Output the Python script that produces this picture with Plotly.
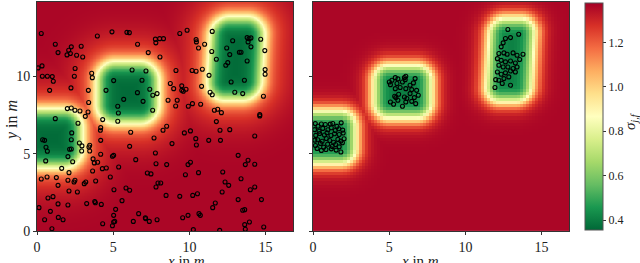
import numpy as np
import plotly.graph_objects as go

# ---------------- data ----------------
X_RANGE = [0, 16.8]
Y_RANGE = [0, 14.8]
X_TICKS = [0, 5, 10, 15]
Y_TICKS = [0, 5, 10]
CB_TICKS = [0.4, 0.6, 0.8, 1.0, 1.2]
CB_TICKTEXT = ["0.4", "0.6", "0.8", "1.0", "1.2"]
Z_MIN, Z_MAX = 0.355, 1.377

# low-sigma regions (cx, cy, half-width x, half-width y, corner radius, skew)
LEFT_REGIONS = [
    (0.85, 6.0, 1.7, 1.45, 0.8, 0.0),
    (5.95, 8.95, 1.6, 1.55, 0.8, 0.0),
    (13.05, 11.15, 1.35, 2.25, 0.8, 0.06),
]
RIGHT_REGIONS = [
    (0.9, 6.05, 1.4, 1.2, 0.5, 0.0),
    (5.88, 9.0, 1.4, 1.22, 0.5, 0.0),
    (12.96, 11.05, 1.02, 2.2, 0.5, 0.06),
]
LEFT_LEVELS = dict(lo=0.36, hi=1.365, e0=0.38, w=0.3, halo=0.14, halo_s=1.5)
RIGHT_LEVELS = dict(lo=0.40, hi=1.365, e0=0.5, w=0.3, halo=0.03, halo_s=1.0)

LEFT_X = [0.28, 4.92, 5.9, 6.06, 3.96, 7.77, 8.05, 8.3, 7.8, 9.37, 9.85, 11.5, 10.44, 10.46, 11.0, 10.6,
          11.47, 1.2, 6.6, 2.25, 2.9, 1.38, 2.19, 1.97, 2.08, 3.0, 2.6, 7.3, 8.07, 0.33, 0.07, 2.5, 2.45,
          0.35, 0.68, 1.0, 1.07, 3.59, 3.63, 0.83, 2.23, 3.37, 9.12, 10.18, 10.44, 10.85, 11.29, 6.24,
          7.15, 5.03, 6.89, 4.53, 7.4, 7.6, 6.59, 7.88, 8.75, 8.97, 9.5, 9.5, 9.6, 9.78, 10.8, 11.36, 11.5,
          5.69, 6.96, 5.3, 5.34, 5.3, 7.59, 8.6, 9.1, 9.2, 9.93, 10.2, 10.74, 11.64, 11.86, 12.1, 11.77,
          1.2, 2.25, 1.99, 2.49, 2.82, 3.35, 3.17, 2.69, 4.31, 3.39, 6.15, 4.18, 4.16, 4.18, 6.08, 8.27,
          8.51, 7.68, 8.86, 9.67, 10.07, 10.42, 10.46, 11.27, 12.04, 12.01, 12.65, 14.29, 14.62, 14.62,
          14.86, 14.97, 14.97,
          0.37, 0.5, 0.59, 0.68, 0.57, 2.28, 2.25, 2.14, 2.25, 2.03, 2.34, 2.78, 2.95, 2.93, 3.46, 3.41,
          3.46, 3.68, 3.76, 3.65, 3.98, 4.18, 4.95, 5.03, 6.48, 5.36, 4.29, 4.55, 4.81, 7.77, 7.81, 8.51,
          9.91, 10.07, 9.74, 10.6, 7.24, 7.48, 7.94, 7.81, 5.84, 6.08, 5.05, 5.58, 4.22, 3.26, 3.79, 3.83,
          3.1, 3.2, 3.85, 2.03, 2.1, 2.49, 2.43, 2.65, 2.1, 1.62, 1.27, 0.66, 0.28, 1.38, 0.72, 1.05, 1.38,
          0.88, 2.03, 0.13, 0.5, 1.4, 1.71, 0.98, 4.31, 5.03, 5.1, 4.95, 6.32, 6.67, 7.11, 7.13, 7.37,
          7.88, 5.16, 5.03, 9.56, 9.91, 10.26, 10.63, 10.72, 11.53, 11.7, 10.53, 10.22, 9.37, 8.47, 8.12,
          12.15, 12.58, 12.34, 12.19, 13.2, 13.39, 13.2, 13.67, 13.85, 14.29, 14.0, 14.29, 14.73, 13.5,
          13.63, 13.63, 13.67, 13.94, 14.88, 11.99,
          11.77, 12.84, 12.45, 12.65, 13.28, 13.39, 13.79, 13.92, 13.85, 14.04, 14.04, 14.68, 14.95,
          13.79, 12.39, 12.52, 12.74, 12.98, 13.5, 13.61]
LEFT_Y = [12.76, 12.87, 12.84, 12.82, 12.6, 12.4, 12.43, 12.43, 12.16, 12.76, 12.97, 12.9, 12.37, 12.22,
          12.07, 11.83, 11.6, 12.07, 12.07, 11.9, 11.94, 11.53, 11.47, 11.38, 11.68, 11.25, 11.36, 11.53,
          11.25, 10.67, 10.54, 10.5, 10.0, 10.0, 10.0, 9.98, 9.68, 10.2, 9.91, 9.09, 9.25, 9.09, 10.37,
          10.37, 10.32, 10.45, 10.06, 10.41, 10.34, 9.72, 9.74, 9.09, 9.16, 8.77, 8.94, 8.88, 9.53, 9.2,
          9.38, 9.09, 9.03, 9.16, 9.35, 8.97, 8.81, 8.51, 8.38, 8.06, 7.63, 7.09, 7.8, 8.45, 8.08, 8.45,
          8.06, 8.23, 8.19, 7.8, 7.87, 7.65, 7.07, 7.26, 7.95, 7.91, 7.8, 7.76, 7.69, 7.41, 6.96, 7.2, 8.3,
          6.38, 6.68, 6.51, 5.86, 5.47, 6.51, 6.77, 6.01, 5.65, 6.34, 6.47, 5.97, 5.56, 5.86, 5.86, 6.51,
          6.55, 6.14, 7.44, 7.52, 8.71, 10.13, 10.43,
          5.9, 5.86, 5.41, 5.15, 4.53, 6.34, 5.9, 5.28, 5.3, 4.81, 4.48, 5.69, 5.5, 5.17, 5.54, 5.43, 5.17,
          4.66, 4.4, 3.88, 4.44, 4.96, 4.83, 4.89, 4.61, 4.14, 4.03, 4.07, 3.49, 5.04, 4.35, 4.29, 4.29,
          4.44, 3.64, 3.77, 3.75, 3.69, 3.1, 2.84, 2.78, 2.63, 2.67, 1.96, 1.72, 1.77, 1.9, 1.83, 3.06,
          3.17, 3.23, 3.28, 3.77, 3.28, 3.17, 2.52, 2.59, 4.05, 3.45, 3.49, 3.36, 2.95, 2.13, 2.22, 1.75,
          1.27, 1.68, 1.51, 0.73, 0.88, 0.73, 0.15, 0.47, 0.58, 0.62, 0.34, 0.62, 1.12, 0.86, 0.8, 0.62,
          0.73, 1.4, 1.01, 0.86, 1.01, 0.09, 1.12, 1.01, 1.51, 1.81, 2.41, 2.3, 2.24, 2.3, 3.1, 2.52, 2.95,
          3.17, 3.81, 2.03, 3.38, 4.89, 4.29, 4.57, 4.31, 2.67, 2.84, 2.03, 1.34, 1.38, 0.41, 0.11, 0.58,
          0.26, 0.04,
          11.1, 12.3, 11.83, 11.4, 11.55, 11.55, 12.5, 12.43, 12.22, 12.48, 11.9, 12.39, 11.66, 10.99,
          10.71, 10.88, 9.63, 8.97, 8.88, 9.74]

RIGHT_X = [0.15, 0.33, 0.55, 0.81, 1.13, 1.3, 1.57, 1.85, 0.1, 0.4, 0.64, 0.98, 1.2, 1.46, 1.69, 1.95,
           0.18, 0.44, 0.75, 0.92, 1.18, 1.41, 1.72, 1.98, 0.12, 0.31, 0.6, 0.87, 1.1, 1.35, 1.63, 1.83,
           2.04, 0.16, 0.49, 0.7, 0.96, 1.26, 1.48, 1.72, 1.93, 0.55, 0.85, 1.2, 1.52, 1.83, 0.27,
           5.01, 5.18, 5.4, 5.57, 6.0, 6.09, 6.7, 5.08, 5.51, 5.87, 6.05, 6.37, 6.59, 5.4, 5.72, 6.09,
           6.48, 6.8, 5.36, 5.62, 6.0, 6.37, 6.65, 6.91, 5.08, 5.29, 5.57, 5.87, 6.09, 6.48, 6.74, 5.44, 6.16,
           12.79, 13.5, 12.63, 12.48, 12.35, 12.96, 12.2, 12.53, 12.74, 13.13, 13.39, 13.78, 12.1, 12.35,
           12.63, 12.96, 13.28, 13.56, 12.2, 12.48, 12.79, 13.13, 13.39, 12.1, 12.35, 12.63, 12.96, 13.28,
           11.99, 12.2, 12.53, 12.85, 11.94, 12.96, 12.42]
RIGHT_Y = [6.94, 6.77, 6.92, 6.88, 6.91, 6.95, 6.76, 6.99, 6.55, 6.45, 6.63, 6.54, 6.67, 6.5, 6.61, 6.52,
           6.18, 6.3, 6.2, 6.35, 6.17, 6.29, 6.24, 6.33, 5.87, 5.9, 5.8, 5.98, 5.85, 5.74, 5.92, 5.81,
           5.96, 5.53, 5.66, 5.42, 5.61, 5.46, 5.59, 5.44, 5.7, 5.21, 5.27, 5.31, 5.23, 5.11, 5.33,
           9.63, 9.74, 9.91, 9.83, 9.91, 10.0, 9.85, 9.46, 9.53, 9.63, 9.78, 9.42, 9.57, 9.2, 9.27, 9.2,
           9.14, 9.09, 8.71, 8.84, 8.66, 8.88, 8.62, 8.77, 8.34, 8.19, 8.45, 8.06, 8.34, 8.38, 8.23, 8.62, 8.56,
           13.02, 12.72, 12.44, 12.16, 11.9, 12.5, 11.47, 11.51, 11.42, 11.51, 11.36, 11.42, 11.14, 11.03,
           10.93, 10.99, 10.86, 11.08, 10.71, 10.6, 10.6, 10.5, 10.6, 10.28, 10.13, 10.22, 10.34, 10.28,
           9.78, 9.74, 9.85, 9.96, 9.27, 9.42, 9.53]


def sigma_field(xs, ys, regions, lo, hi, e0, w, halo, halo_s):
    X, Y = np.meshgrid(xs, ys)
    f = np.zeros_like(X)
    h = np.zeros_like(X)
    for cx, cy, ax, ay, r, skew in regions:
        dx = np.abs((X - cx) - skew * (Y - cy)) - (ax - r)
        dy = np.abs(Y - cy) - (ay - r)
        e = np.hypot(np.maximum(dx, 0), np.maximum(dy, 0)) + np.minimum(np.maximum(dx, dy), 0) - r
        g = 1.0 / (1.0 + np.exp((e - e0) / w))
        f = np.maximum(f, g)
        h = np.maximum(h, np.exp(-np.maximum(e, 0) ** 2 / (2 * halo_s ** 2)))
    return hi - (hi - lo) * f - halo * h * (1 - f)


xl = np.arange(0.025, 16.85, 0.05)
yl = np.arange(0.025, 14.85, 0.05)
zl = sigma_field(xl, yl, LEFT_REGIONS, **LEFT_LEVELS)
xr = np.arange(0.1, 17.0, 0.2)
yr = np.arange(0.1, 15.0, 0.2)
zr = sigma_field(xr, yr, RIGHT_REGIONS, **RIGHT_LEVELS)

FONT = "Liberation Serif"
fig = go.Figure()
fig.add_trace(go.Heatmap(x=xl, y=yl, z=zl, colorscale="RdYlGn", reversescale=True,
                         zmin=Z_MIN, zmax=Z_MAX, showscale=False, xaxis="x", yaxis="y"))
fig.add_trace(go.Heatmap(x=xr, y=yr, z=zr, colorscale="RdYlGn", reversescale=True,
                         zmin=Z_MIN, zmax=Z_MAX, xaxis="x2", yaxis="y2",
                         colorbar=dict(x=585 / 640, xanchor="left", xpad=0, ypad=0,
                                       thickness=18, thicknessmode="pixels",
                                       len=227, lenmode="pixels", y=0.5, yanchor="middle",
                                       outlinewidth=1, outlinecolor="#555",
                                       tickvals=CB_TICKS, ticktext=CB_TICKTEXT, ticks="outside",
                                       ticklen=3, tickcolor="#333",
                                       tickfont=dict(family=FONT, size=12, color="#222"))))
marker = dict(symbol="circle-open", size=4, color="black", line=dict(width=1.1, color="black"))
fig.add_trace(go.Scatter(x=LEFT_X, y=LEFT_Y, mode="markers", marker=marker, xaxis="x", yaxis="y",
                         showlegend=False))
fig.add_trace(go.Scatter(x=RIGHT_X, y=RIGHT_Y, mode="markers", marker=marker, xaxis="x2", yaxis="y2",
                         showlegend=False))

ax_common = dict(showline=True, mirror=True, linecolor="#333", linewidth=1, ticks="outside", ticklen=3,
                 tickcolor="#333", showgrid=False, zeroline=False,
                 tickfont=dict(family=FONT, size=14, color="#222"))
fig.update_layout(
    width=640, height=263, margin=dict(l=0, r=0, t=2, b=32, autoexpand=False),
    paper_bgcolor="white", plot_bgcolor="white", showlegend=False,
    xaxis=dict(domain=[37 / 640, 293 / 640], range=X_RANGE, tickvals=X_TICKS, anchor="y", **ax_common),
    yaxis=dict(domain=[0, 1], range=Y_RANGE, tickvals=Y_TICKS, anchor="x", **ax_common),
    xaxis2=dict(domain=[313 / 640, 569 / 640], range=X_RANGE, tickvals=X_TICKS, anchor="y2", **ax_common),
    yaxis2=dict(domain=[0, 1], range=Y_RANGE, tickvals=Y_TICKS, anchor="x2", showticklabels=False,
                **ax_common),
    annotations=[
        dict(text="<i>x</i> in <i>m</i>", xref="paper", yref="paper", x=165 / 640, y=-0.132,
             showarrow=False, font=dict(family=FONT, size=15, color="#222"), yanchor="middle"),
        dict(text="<i>x</i> in <i>m</i>", xref="paper", yref="paper", x=441 / 640, y=-0.132,
             showarrow=False, font=dict(family=FONT, size=15, color="#222"), yanchor="middle"),
        dict(text="<i>y</i> in <i>m</i>", xref="paper", yref="paper", x=12 / 640, y=0.48,
             showarrow=False, textangle=-90, font=dict(family=FONT, size=16, color="#222"),
             xanchor="center", yanchor="middle"),
        dict(text="<i>σ<sub>j,f</sub></i>", xref="paper", yref="paper", x=631 / 640, y=0.48,
             showarrow=False, textangle=-90, font=dict(family=FONT, size=15, color="#222"),
             xanchor="center", yanchor="middle"),
    ],
)
fig.write_html("out.html", config={"displayModeBar": False},
               post_script="document.body.style.margin='0px';document.body.style.overflow='hidden';")
